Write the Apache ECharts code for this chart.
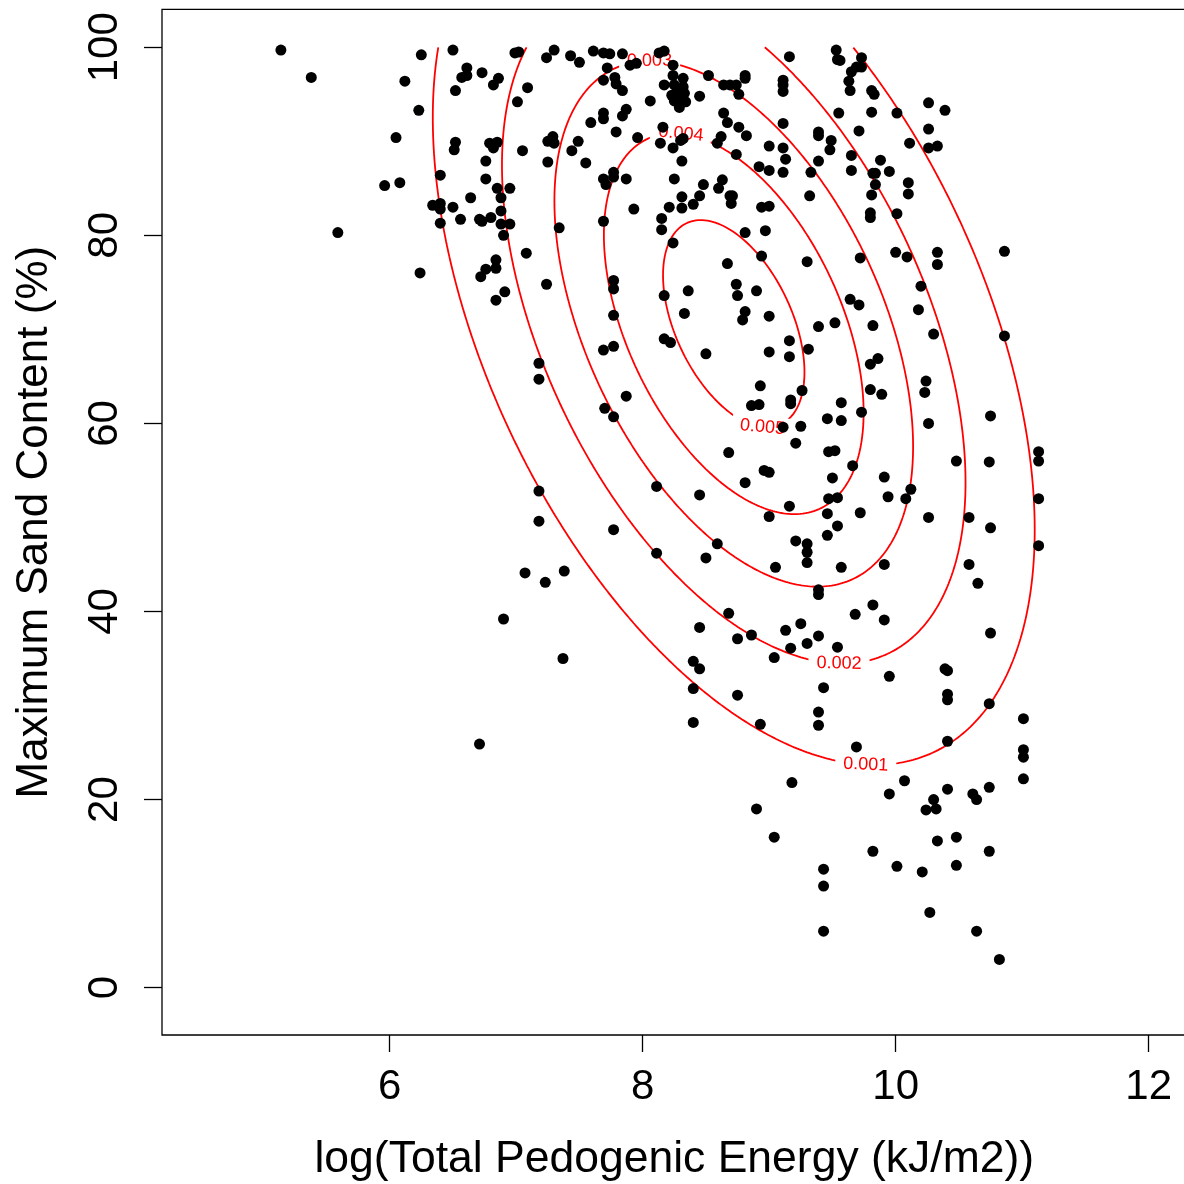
<!DOCTYPE html>
<html><head><meta charset="utf-8">
<script src="https://cdn.jsdelivr.net/npm/echarts@6/dist/echarts.min.js"></script>
<style>html,body{margin:0;padding:0;background:#fff}#c{width:1184px;height:1184px}</style>
</head><body><div id="c"></div>
<script>
// log(Total Pedogenic Energy) values
const energy = [
 5.14,5.38,6.25,6.50,6.12,6.61,6.57,6.61,6.73,6.86,6.82,6.52,6.99,7.02,7.09,7.01,6.23,6.05,6.52,6.51,6.79,6.85,6.82,7.05,6.76,6.40,6.76,5.96,6.08,6.85,6.95,6.64,6.88,6.34,6.40,6.40,6.50,6.88,6.56,6.71,6.80,6.73,6.88,6.95,6.40,6.90,5.59,7.08,6.84,6.76,6.84,6.72,6.24,6.91,6.84,
 7.24,7.30,7.43,7.50,7.61,7.69,7.74,7.84,7.72,7.90,7.95,8.13,8.17,8.24,7.69,7.78,7.79,7.84,8.17,8.24,8.32,8.25,8.32,8.27,8.33,8.25,8.31,8.29,8.34,8.23,8.45,8.52,8.64,8.69,8.74,8.76,8.81,8.81,9.11,9.11,9.11,9.16,8.06,7.87,7.84,7.69,7.69,7.59,7.79,7.96,8.16,8.14,8.24,8.30,8.32,8.31,8.64,8.67,8.76,8.82,8.62,8.59,8.74,9.11,9.00,9.11,9.13,8.92,9.00,9.11,
 7.29,7.25,7.30,7.49,7.44,7.25,7.55,7.69,7.77,7.77,7.71,7.87,7.93,8.25,8.48,8.63,8.60,8.45,8.40,8.31,8.31,8.21,8.15,8.15,8.69,8.71,8.70,8.94,9.00,8.81,8.97,8.94,8.67,8.24,7.34,7.69,7.24,7.77,7.77,8.17,8.36,8.74,8.75,8.90,8.33,8.81,8.79,9.00,7.77,8.17,8.22,
 9.53,9.54,9.56,9.73,9.69,9.73,9.65,9.63,9.64,9.81,9.83,9.55,9.81,10.01,10.26,10.39,9.39,9.39,9.71,9.49,9.48,10.11,10.26,10.26,10.33,9.39,9.33,9.65,9.65,9.88,9.95,9.82,9.84,9.84,10.10,10.10,9.32,9.81,9.80,9.80,10.01,10.86,10.33,10.33,10.00,10.09,9.72,9.30,10.20,10.18,9.64,9.71,9.39,9.52,9.82,10.30,10.86,
 7.07,6.90,
 7.18,7.18,7.69,7.77,7.87,7.70,7.77,8.50,9.00,9.16,8.93,8.86,8.92,9.17,9.17,9.11,8.68,8.96,9.00,8.81,9.16,9.00,7.18,7.18,8.11,8.45,7.77,8.11,8.59,8.50,9.05,7.23,7.38,8.68,8.45,8.75,8.86,9.13,9.17,7.37,8.40,9.04,
 9.16,9.31,9.80,9.86,10.24,10.23,9.80,9.89,9.26,9.57,9.46,9.57,9.73,9.25,9.21,10.26,10.75,9.47,9.52,9.66,10.48,10.74,11.13,11.13,9.50,9.91,9.47,9.54,9.94,10.08,10.12,9.46,9.72,11.13,10.26,10.58,9.54,9.46,9.21,9.30,9.30,9.30,9.57,9.91,10.75,11.13,10.58,10.65,9.39,9.39,9.82,9.68,9.91,9.25,9.39,9.30,9.54,10.75,
 6.71,
 8.45,8.40,8.75,8.40,8.93,8.90,9.04,
 9.95,9.43,9.39,9.39,9.69,10.39,10.41,10.41,10.41,10.74,11.01,10.41,11.01,11.01,11.01,9.18,10.07,9.95,10.41,10.30,10.24,10.32,10.61,10.64,10.74,10.33,10.48,9.82,10.01,10.21,10.48,10.74,9.43,9.43,10.27,10.64,9.43,10.82
];
// Maximum Sand Content (%) values, same order
const sand = [
 99.7,96.8,99.2,99.7,96.4,97.8,96.8,97.0,97.3,96.7,96.0,95.4,99.4,99.5,95.7,94.2,93.3,90.4,89.9,89.1,89.8,89.9,89.3,89.0,87.9,86.4,86.0,85.3,85.6,85.0,85.0,84.0,84.0,83.2,83.4,82.8,83.0,82.6,81.7,81.7,81.9,81.5,81.2,81.2,81.3,80.0,80.3,78.1,77.4,76.4,76.5,75.6,76.0,74.0,73.1,
 98.9,99.7,99.1,98.4,99.6,99.4,99.3,99.3,97.8,98.1,98.3,99.4,99.6,98.1,96.5,96.8,96.1,95.4,96.0,97.0,96.7,96.0,95.8,95.1,95.1,94.3,94.4,93.6,94.2,94.9,94.8,97.0,96.0,96.0,96.0,95.0,97.0,96.7,96.5,96.0,95.3,99.0,94.3,93.4,92.7,93.0,92.4,92.0,91.0,90.4,91.5,89.8,89.3,90.1,90.3,87.9,93.0,92.0,91.5,90.6,90.5,89.8,88.6,91.9,89.5,89.3,88.1,87.3,86.9,86.7,
 90.5,90.0,89.8,90.0,89.0,87.8,87.7,86.0,86.7,86.2,85.4,86.0,82.8,86.0,85.4,85.9,85.0,84.2,83.3,84.1,82.9,83.0,81.8,80.6,84.2,84.2,83.4,83.0,83.1,80.3,80.5,77.8,77.0,79.2,80.8,81.5,74.8,75.2,74.3,73.6,74.1,74.8,73.6,74.1,71.7,71.9,71.0,71.4,71.5,69.0,68.6,
 99.7,98.7,98.6,98.9,97.9,97.9,97.4,96.4,95.4,95.4,95.0,93.0,93.1,93.0,94.1,93.3,91.0,90.6,91.1,90.1,89.1,89.8,91.3,89.3,89.5,87.9,86.7,88.5,86.9,88.0,86.8,86.6,86.6,85.4,85.6,84.4,84.2,84.3,82.4,81.9,82.3,78.3,78.2,76.9,78.2,77.7,77.6,77.2,74.6,72.1,73.2,72.6,70.3,70.7,70.4,69.5,69.3,
 44.1,39.2,
 66.4,64.7,67.8,68.2,62.9,61.6,60.7,67.4,67.6,67.1,64.0,61.9,62.0,62.5,62.1,59.6,56.9,55.0,54.8,53.7,51.2,50.1,52.8,49.6,53.3,52.4,48.7,46.2,47.2,45.7,44.7,43.1,44.3,39.8,38.3,37.1,37.5,38.0,36.1,35.0,34.7,35.1,
 68.8,67.9,66.3,66.9,64.5,63.3,63.6,63.1,63.5,62.2,60.5,60.3,61.2,59.7,57.9,60.0,60.8,57.0,57.1,55.5,56.0,55.9,57.0,56.0,54.2,54.3,52.0,52.1,52.2,52.0,53.0,50.4,50.5,52.0,50.0,50.0,49.1,48.1,47.5,47.2,46.3,45.2,44.7,45.0,48.9,47.0,45.0,43.0,42.3,41.8,40.7,39.7,39.1,38.7,37.4,36.6,36.2,37.7,
 25.9,
 33.9,31.8,31.1,28.2,28.0,19.0,16.0,
 33.1,31.9,29.3,27.9,25.6,33.9,33.7,31.2,30.6,30.2,28.6,26.2,25.3,24.5,22.2,21.8,22.0,20.6,21.1,20.0,18.9,19.0,20.6,20.0,21.3,15.6,16.0,14.5,12.9,12.3,13.0,14.5,12.6,10.8,8.0,6.0,6.0,3.0
];
const xTicks = [6, 8, 10, 12];
const yTicks = [0, 20, 40, 60, 80, 100];
// bivariate normal density contours
const contourLevels = [0.001, 0.002, 0.003, 0.004, 0.005];
const contourLabelAngles = [-64, -63, 118, 114, -66];
const fitMean = [8.72, 70.6];
const fitSd = [1.289, 25.42];
const fitRho = -0.467;
const gridMaxY = 100;

const n = Math.min(energy.length, sand.length);
const points = [];
for (let i = 0; i < n; i++) points.push([energy[i], sand[i]]);

const s = Math.sqrt(1 - fitRho * fitRho);
const peak = 1 / (2 * Math.PI * fitSd[0] * fitSd[1] * s);
function radius(level) { return Math.sqrt(2 * Math.log(peak / level)); }
function ellipsePoint(r, t) {
  return [fitMean[0] + fitSd[0] * r * Math.cos(t),
          fitMean[1] + fitSd[1] * r * (fitRho * Math.cos(t) + s * Math.sin(t))];
}
const tTop = Math.PI / 2 - Math.atan2(fitRho, s);
function contourPath(level) {
  const r = radius(level), N = 1440, out = [];
  let prev = ellipsePoint(r, tTop);
  if (prev[1] <= gridMaxY) out.push(prev);
  for (let i = 1; i <= N; i++) {
    const cur = ellipsePoint(r, tTop + 2 * Math.PI * i / N);
    const pIn = prev[1] <= gridMaxY, cIn = cur[1] <= gridMaxY;
    if (pIn !== cIn) {
      const f = (gridMaxY - prev[1]) / (cur[1] - prev[1]);
      out.push([prev[0] + f * (cur[0] - prev[0]), gridMaxY]);
    }
    if (cIn) out.push(cur);
    prev = cur;
  }
  return out;
}
const labelData = contourLevels.map((lv, i) => {
  const r = radius(lv), t = contourLabelAngles[i] * Math.PI / 180;
  const p = ellipsePoint(r, t), q = ellipsePoint(r, t + 0.01);
  return [p[0], p[1], q[0], q[1], i];
});

const FONT = '"Liberation Sans", Arial, Helvetica, sans-serif';
const series = contourLevels.map(lv => ({
  type: 'line', data: contourPath(lv), showSymbol: false, smooth: false,
  silent: true, z: 2, lineStyle: { color: '#ff0000', width: 1.8 }, animation: false
}));
series.push({
  type: 'custom', data: labelData, z: 3, silent: true, animation: false,
  encode: { x: 0, y: 1 },
  renderItem: function (params, api) {
    const p = api.coord([api.value(0), api.value(1)]);
    const q = api.coord([api.value(2), api.value(3)]);
    let ang = Math.atan2(-(q[1] - p[1]), q[0] - p[0]);
    if (ang > Math.PI / 2) ang -= Math.PI;
    if (ang < -Math.PI / 2) ang += Math.PI;
    return {
      type: 'text', x: p[0], y: p[1], rotation: ang,
      style: {
        text: String(contourLevels[api.value(4)]), fill: '#ff0000',
        font: '18px ' + FONT, align: 'center', verticalAlign: 'middle',
        backgroundColor: '#ffffff', padding: [2, 8]
      }
    };
  }
});
series.push({
  type: 'scatter', data: points, symbol: 'circle', symbolSize: 11, z: 4,
  itemStyle: { color: '#000000', opacity: 1 }, animation: false, silent: true
});

const chart = echarts.init(document.getElementById('c'), null, { renderer: 'canvas' });
chart.setOption({
  backgroundColor: '#ffffff',
  animation: false,
  grid: { left: 162, top: 9.3, width: 1024.6, height: 1025.7, show: true,
          containLabel: false, outerBoundsMode: 'none',
          borderColor: '#000', borderWidth: 1.3, backgroundColor: 'transparent' },
  xAxis: {
    type: 'value', min: 4.2, max: 12.3,
    name: 'log(Total Pedogenic Energy (kJ/m2))', nameLocation: 'middle', nameGap: 102,
    nameTextStyle: { fontFamily: FONT, fontSize: 44.5, color: '#000' },
    axisLine: { show: false, onZero: false }, splitLine: { show: false },
    axisTick: { show: true, customValues: xTicks, length: 17, inside: false, lineStyle: { color: '#000', width: 1.3 } },
    axisLabel: { customValues: xTicks, fontFamily: FONT, fontSize: 42, color: '#000', margin: 31 }
  },
  yAxis: {
    type: 'value', min: -5.04, max: 104.04,
    name: 'Maximum Sand Content (%)', nameLocation: 'middle', nameGap: 105,
    nameTextStyle: { fontFamily: FONT, fontSize: 44, color: '#000' },
    axisLine: { show: false, onZero: false }, splitLine: { show: false },
    axisTick: { show: true, customValues: yTicks, length: 18, inside: false, lineStyle: { color: '#000', width: 1.3 } },
    axisLabel: { customValues: yTicks, rotate: 90, fontFamily: FONT, fontSize: 42, color: '#000', margin: 36 }
  },
  series: series
});
</script></body></html>
